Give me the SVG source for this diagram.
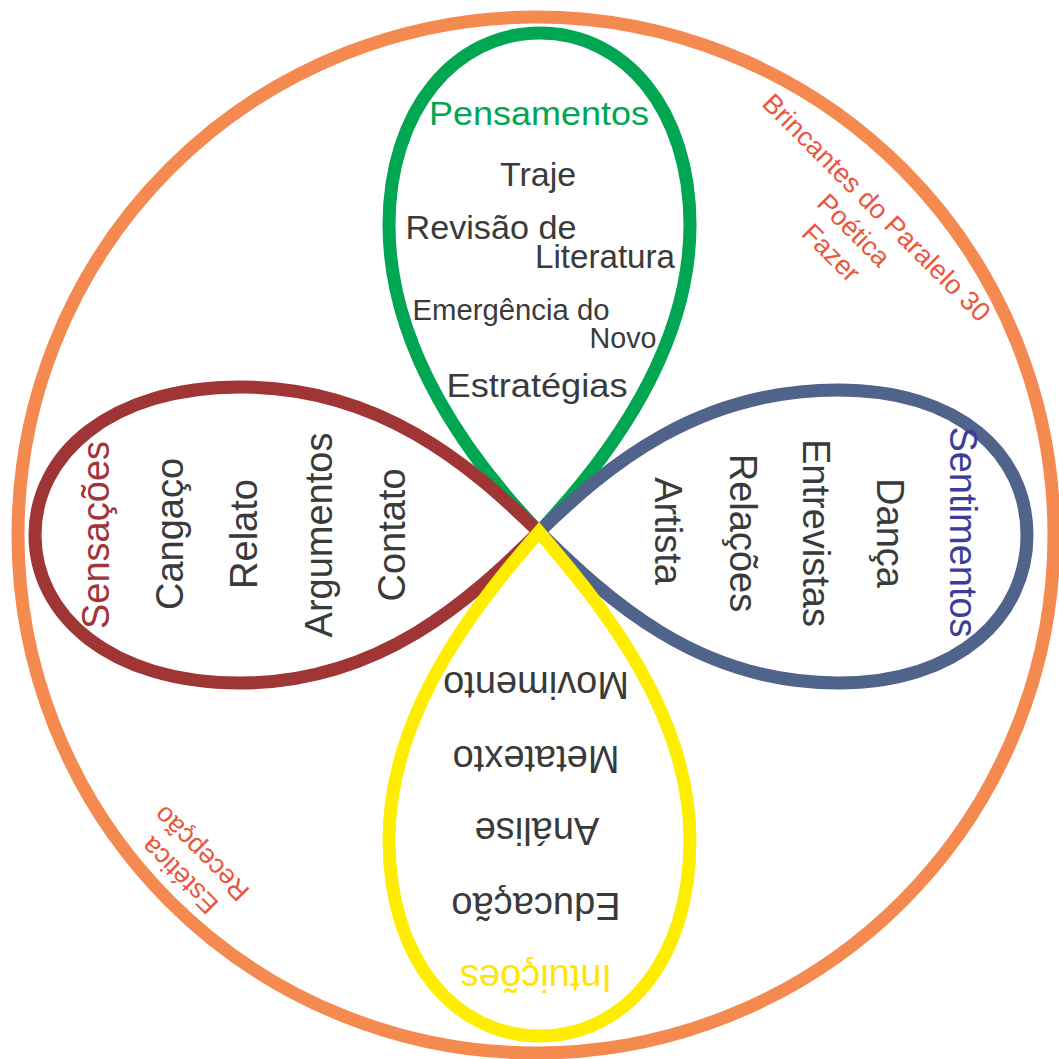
<svg xmlns="http://www.w3.org/2000/svg" width="1059" height="1059" viewBox="0 0 1059 1059">
<style>
.petal{fill:none;stroke-width:13;stroke-linejoin:miter}
text{font-family:"Liberation Sans",Arial,Helvetica,sans-serif;text-anchor:middle}
.t{fill:#3a3a3a;font-size:38px}
.tp{fill:#3a3a3a;font-size:34px}
.o{fill:#E9573F;font-size:27px}
</style>
<rect width="1059" height="1059" fill="#ffffff"/>
<g id="outer">
<circle cx="536" cy="535" r="518" fill="none" stroke="#F58A50" stroke-width="13"/>
</g>
<g id="pensamentos">
<path class="petal" stroke="#00A651" d="M539,532 C470,460 389,350 389,225 C389,110 455,33 540,33 C625,33 690,110 690,225 C690,350 607,460 539,532 Z"/>
<text x="539" y="125" fill="#00A651" font-size="34" textLength="220" lengthAdjust="spacingAndGlyphs">Pensamentos</text>
<text class="tp" x="538" y="186">Traje</text>
<text class="tp" x="491" y="239" textLength="171" lengthAdjust="spacingAndGlyphs">Revisão de</text>
<text class="tp" x="605" y="268" textLength="140" lengthAdjust="spacingAndGlyphs">Literatura</text>
<text class="tp" x="511" y="320" style="font-size:29px" textLength="197" lengthAdjust="spacingAndGlyphs">Emergência do</text>
<text class="tp" x="623" y="348" style="font-size:29px" textLength="67" lengthAdjust="spacingAndGlyphs">Novo</text>
<text class="tp" x="537" y="397" textLength="181" lengthAdjust="spacingAndGlyphs">Estratégias</text>
</g>
<g id="sensacoes">
<path class="petal" stroke="#A03535" d="M539,532 C470,465 380,387 240,387 C110,387 35,455 35,535 C35,615 110,683 240,683 C380,683 470,600 539,532 Z"/>
<text transform="translate(109,535) rotate(-90)" fill="#A0353A" font-size="38">Sensações</text>
<text class="t" transform="translate(183,534) rotate(-90)">Cangaço</text>
<text class="t" transform="translate(257,534) rotate(-90)">Relato</text>
<text class="t" transform="translate(332,535) rotate(-90)">Argumentos</text>
<text class="t" transform="translate(405,535) rotate(-90)">Contato</text>
</g>
<g id="sentimentos">
<path class="petal" stroke="#50638A" d="M539,532 C608,465 698,390 838,390 C960,390 1027,455 1027,535 C1027,615 960,683 838,683 C698,683 608,600 539,532 Z"/>
<text transform="translate(950,532) rotate(90)" fill="#3A3E9A" font-size="38">Sentimentos</text>
<text class="t" transform="translate(877,533) rotate(90)">Dança</text>
<text class="t" transform="translate(803,533) rotate(90)">Entrevistas</text>
<text class="t" transform="translate(730,533) rotate(90)">Relações</text>
<text class="t" transform="translate(655,531) rotate(90)">Artista</text>
</g>
<g id="intuicoes">
<path class="petal" stroke="#FFED00" d="M539,532 C480,600 389,710 389,840 C389,960 455,1036 540,1036 C625,1036 690,960 690,840 C690,710 597,600 539,532 Z"/>
<text class="t" transform="translate(536,672) rotate(180)">Movimento</text>
<text class="t" transform="translate(536,746) rotate(180)">Metatexto</text>
<text class="t" transform="translate(537,818) rotate(180)">Análise</text>
<text class="t" transform="translate(536,893) rotate(180)">Educação</text>
<text transform="translate(536,965) rotate(180)" fill="#FFE500" font-size="38">Intuições</text>
</g>
<g id="label-top-right" transform="translate(870,214) rotate(45)">
<text class="o" x="0" y="0">Brincantes do Paralelo 30</text>
<text class="o" x="0" y="32">Poética</text>
<text class="o" x="0" y="64">Fazer</text>
</g>
<g id="label-bottom-left" transform="translate(186,869) rotate(225)">
<text class="o" x="0" y="0">Estética</text>
<text class="o" x="0" y="31">Recepção</text>
</g>
</svg>
